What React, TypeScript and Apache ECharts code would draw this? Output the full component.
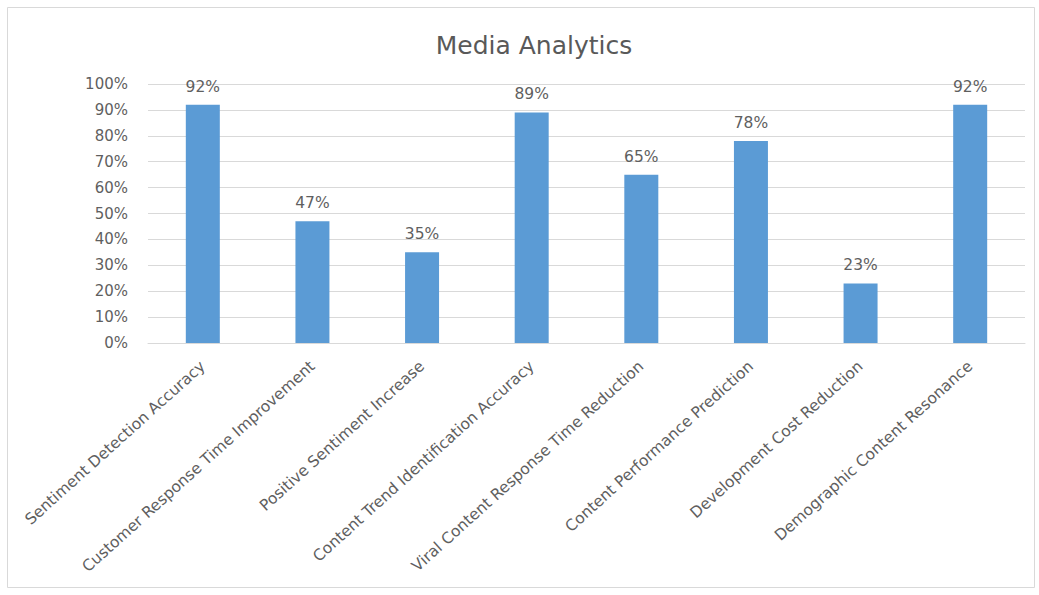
import React, { useEffect, useRef } from "react";
import * as echarts from "echarts";

const categories = [
  "Sentiment Detection Accuracy",
  "Customer Response Time Improvement",
  "Positive Sentiment Increase",
  "Content Trend Identification Accuracy",
  "Viral Content Response Time Reduction",
  "Content Performance Prediction",
  "Development Cost Reduction",
  "Demographic Content Resonance",
];
const values = [92, 47, 35, 89, 65, 78, 23, 92];
const title = "Media Analytics";

export default function App() {
  const ref = useRef<HTMLDivElement>(null);
  useEffect(() => {
    document.body.style.margin = "0";
    const chart = echarts.init(ref.current!, null, { renderer: "svg" });
    const font = "'DejaVu Sans', sans-serif";
    chart.setOption({
      animation: false,
      backgroundColor: "#ffffff",
      graphic: [
        {
          type: "rect",
          shape: { x: 7.5, y: 7.5, width: 1027, height: 580 },
          style: { fill: "none", stroke: "#d9d9d9", lineWidth: 1 },
          silent: true,
        },
      ],
      title: {
        text: title,
        left: 529,
        top: 28,
        textAlign: "center",
        textStyle: { fontFamily: font, fontSize: 25, fontWeight: "normal", color: "#595959" },
      },
      grid: { left: 148, right: 14, top: 84, bottom: 252, containLabel: false },
      xAxis: {
        type: "category",
        data: categories,
        axisLine: { show: true, lineStyle: { color: "#d9d9d9" } },
        axisTick: { show: false },
        axisLabel: {
          interval: 0,
          rotate: 42,
          margin: 21,
          color: "#5f5f5f",
          fontFamily: font,
          fontSize: 15.5,
        },
      },
      yAxis: {
        type: "value",
        min: 0,
        max: 100,
        interval: 10,
        axisLine: { show: false },
        axisTick: { show: false },
        splitLine: { lineStyle: { color: "#d9d9d9" } },
        axisLabel: {
          formatter: "{value}%",
          color: "#5f5f5f",
          fontFamily: font,
          fontSize: 15,
          margin: 20,
        },
      },
      series: [
        {
          type: "bar",
          data: values,
          barWidth: 34,
          itemStyle: { color: "#5b9bd5" },
          label: {
            show: true,
            position: "top",
            distance: 10,
            formatter: "{c}%",
            color: "#5f5f5f",
            fontFamily: font,
            fontSize: 15.5,
          },
        },
      ],
    });
    return () => chart.dispose();
  }, []);
  return <div ref={ref} style={{ width: 1039, height: 595 }} />;
}
